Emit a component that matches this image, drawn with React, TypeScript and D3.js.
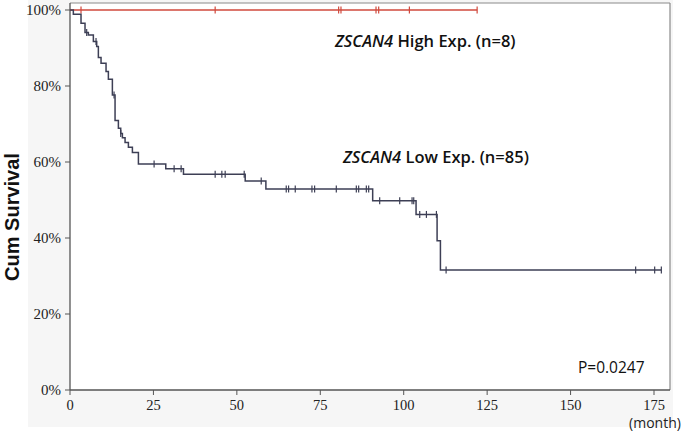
import React from "react";
import * as d3 from "d3";

// Low expression group: step times (months) and survival after each step
const lowTimes = [0, 1.0, 3.3, 4.5, 5.5, 7.0, 8.0, 8.5, 9.3, 10.8, 11.5, 12.7, 13.5, 14.5, 15.2, 15.7, 16.5, 17.5, 18.7, 20.5, 28.7, 34.0, 52.5, 58.7, 90.7, 103.7, 110.0, 111.0];
const lowSurv = [1.0, 0.989, 0.965, 0.941, 0.934, 0.917, 0.904, 0.875, 0.86, 0.838, 0.818, 0.776, 0.709, 0.689, 0.675, 0.664, 0.651, 0.639, 0.625, 0.595, 0.582, 0.568, 0.55, 0.529, 0.498, 0.462, 0.393, 0.316];
const lowEnd = 177.2;
const lowCensor = [5.0, 7.8, 13.2, 15.2, 25.2, 31.2, 33.3, 43.5, 45.5, 46.5, 52.2, 57.3, 64.8, 65.5, 67.5, 72.5, 73.3, 79.8, 85.8, 86.5, 88.8, 89.5, 92.8, 98.8, 102.5, 103.0, 104.8, 106.8, 109.8, 112.7, 169.5, 175.2, 177.2];

// High expression group
const highTimes = [0];
const highSurv = [1.0];
const highEnd = 122;
const highCensor = [3.3, 43.5, 80.5, 81.2, 91.7, 92.5, 101.7, 122];

const xTicks = [0, 25, 50, 75, 100, 125, 150, 175];
const yTicks = [0, 0.2, 0.4, 0.6, 0.8, 1.0];

const x = d3.scaleLinear().domain([0, 175]).range([70, 654]);
const y = d3.scaleLinear().domain([0, 1]).range([390, 10]);

function survAt(times: number[], surv: number[], t: number) {
  let s = surv[0];
  for (let i = 0; i < times.length; i++) if (times[i] <= t) s = surv[i];
  return s;
}

function stepPath(times: number[], surv: number[], end: number) {
  const pts: [number, number][] = times.map((t, i) => [t, surv[i]]);
  pts.push([end, surv[surv.length - 1]]);
  const line = d3
    .line<[number, number]>()
    .x((d) => x(d[0]))
    .y((d) => y(d[1]))
    .curve(d3.curveStepAfter);
  return line(pts) || "";
}

export default function App() {
  const lowColor = "#3d3f55";
  const highColor = "#d0483c";
  return (
    <svg width={685} height={433} style={{ position: "absolute", left: 0, top: 0 }}>
      <rect x={0} y={0} width={685} height={433} fill="#fff" />
      <rect x={28} y={0} width={645} height={427} fill="#f6f6f6" />
      <rect x={70} y={3} width={600} height={387} fill="#fff" />
      {/* frame */}
      <line x1={70} x2={670} y1={3} y2={3} stroke="#8a8a8a" strokeWidth={1.2} />
      <line x1={670} x2={670} y1={3} y2={390} stroke="#8a8a8a" strokeWidth={1.2} />
      <line x1={70} x2={70} y1={3} y2={390} stroke="#555" strokeWidth={1.3} />
      <line x1={70} x2={670} y1={390} y2={390} stroke="#555" strokeWidth={1.3} />
      {/* y axis ticks */}
      {yTicks.map((v) => (
        <g key={"y" + v}>
          <line x1={65} x2={70} y1={y(v)} y2={y(v)} stroke="#555" strokeWidth={1} />
          <text x={61} y={y(v) + 5} textAnchor="end" fontFamily="Liberation Serif" fontSize={15} fill="#222">
            {Math.round(v * 100) + "%"}
          </text>
        </g>
      ))}
      {/* x axis ticks */}
      {xTicks.map((v) => (
        <g key={"x" + v}>
          <line x1={x(v)} x2={x(v)} y1={390} y2={395} stroke="#555" strokeWidth={1} />
          <text x={x(v)} y={410} textAnchor="middle" fontFamily="Liberation Serif" fontSize={14.5} fill="#222">
            {v}
          </text>
        </g>
      ))}
      <text x={655} y={428} textAnchor="middle" fontFamily="Open Sans" fontSize={14} fill="#222">(month)</text>
      <text
        transform={`translate(19,217) rotate(-90)`}
        textAnchor="middle"
        fontFamily="Liberation Sans"
        fontWeight="bold"
        fontSize={20}
        fill="#111"
      >
        Cum Survival
      </text>
      {/* curves */}
      <path d={stepPath(highTimes, highSurv, highEnd)} fill="none" stroke={highColor} strokeWidth={1.3} />
      {highCensor.map((t, i) => (
        <line key={"hc" + i} x1={x(t)} x2={x(t)} y1={y(survAt(highTimes, highSurv, t)) - 3.5} y2={y(survAt(highTimes, highSurv, t)) + 3.5} stroke={highColor} strokeWidth={1.2} />
      ))}
      <path d={stepPath(lowTimes, lowSurv, lowEnd)} fill="none" stroke={lowColor} strokeWidth={1.5} />
      {lowCensor.map((t, i) => (
        <line key={"lc" + i} x1={x(t)} x2={x(t)} y1={y(survAt(lowTimes, lowSurv, t)) - 3.5} y2={y(survAt(lowTimes, lowSurv, t)) + 3.5} stroke={lowColor} strokeWidth={1.2} />
      ))}
      {/* labels */}
      <text x={335} y={47} fontFamily="Open Sans" fontWeight={600} fontSize={16.5} fill="#111">
        <tspan fontStyle="italic">ZSCAN4</tspan> High Exp. (n=8)
      </text>
      <text x={343} y={163} fontFamily="Open Sans" fontWeight={600} fontSize={16.5} fill="#111">
        <tspan fontStyle="italic">ZSCAN4</tspan> Low Exp. (n=85)
      </text>
      <text x={578} y={373} fontFamily="Open Sans" fontSize={15.5} fill="#111">P=0.0247</text>
    </svg>
  );
}
